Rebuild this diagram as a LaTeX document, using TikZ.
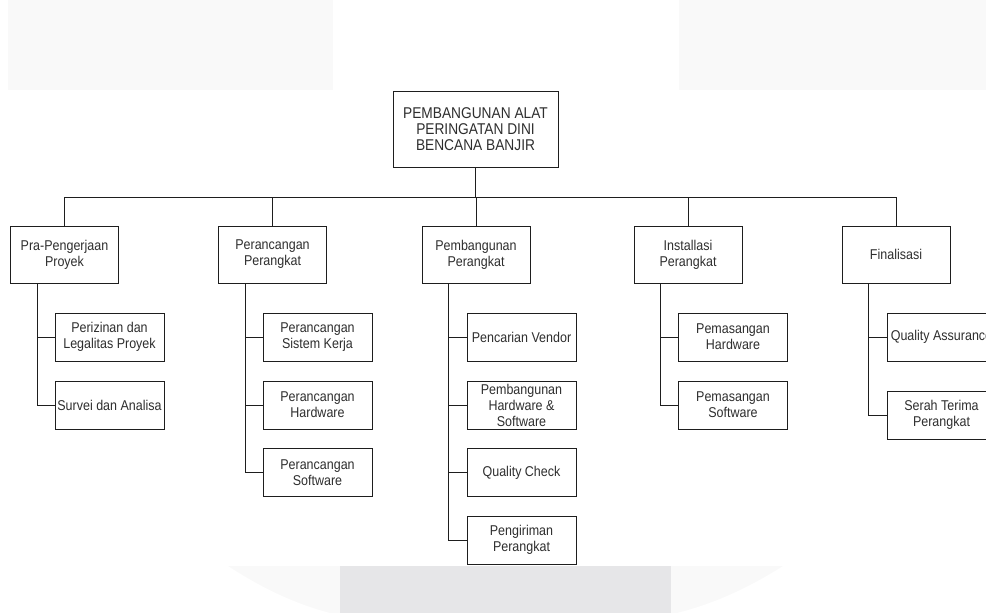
\documentclass[tikz,border=0pt]{standalone}
\usepackage{fontspec}
\setmainfont{Liberation Sans}[FakeStretch=0.88]
\definecolor{linec}{HTML}{1E1E1E}
\definecolor{txtc}{HTML}{2E2E2E}
\definecolor{paleband}{HTML}{F9F9F9}
\definecolor{greyband}{HTML}{E6E6E8}
\tikzset{
  box/.style={draw=linec, line width=1pt, fill=white, align=center, inner sep=0pt,
              text=txtc, font=\fontsize{14.2}{16}\selectfont},
  topbox/.style={box, minimum width=165pt, minimum height=76pt,
                 font=\fontsize{15.6}{16}\selectfont},
  phase/.style={box, minimum width=108pt, minimum height=57pt},
  task/.style={box, minimum width=109pt, minimum height=48pt},
  link/.style={draw=linec, line width=1pt}
}
\begin{document}
\begin{tikzpicture}[x=1pt,y=-1pt]
\useasboundingbox (0,0) rectangle (986,613);
\clip (0,0) rectangle (986,613);

% faint background bands
\fill[paleband] (8,0) rectangle (333,90);
\fill[paleband] (679,0) rectangle (986,90);
\fill[paleband] (228,566) .. controls (268,592) and (300,605) .. (330,613)
  -- (340,613) -- (340,566) -- cycle;
\fill[paleband] (783,566) .. controls (745,590) and (712,604) .. (677,613)
  -- (671,613) -- (671,566) -- cycle;
\fill[greyband] (340,566) rectangle (671,613);

% root
\node[topbox] (root) at (475.5,129) {PEMBANGUNAN ALAT\\PERINGATAN DINI\\BENCANA BANJIR};

% phases
\node[phase] (pra)  at (64.5,254.5) {Pra-Pengerjaan\\Proyek};
\node[phase] (pran) at (272.5,254.5) {Perancangan\\Perangkat};
\node[phase] (pemb) at (476,254.5) {Pembangunan\\Perangkat};
\node[phase] (inst) at (688,254.5) {Installasi\\Perangkat};
\node[phase] (fin)  at (896,254.5) {Finalisasi};

% tasks
\node[task] (pra1) at (109.5,337) {Perizinan dan\\Legalitas Proyek};
\node[task] (pra2) at (109.5,405) {Survei dan Analisa};

\node[task] (pran1) at (317.5,337) {Perancangan\\Sistem Kerja};
\node[task] (pran2) at (317.5,405) {Perancangan\\Hardware};
\node[task] (pran3) at (317.5,472.5) {Perancangan\\Software};

\node[task] (pemb1) at (521.5,337) {Pencarian Vendor};
\node[task] (pemb2) at (521.5,405) {Pembangunan\\Hardware \&\\Software};
\node[task] (pemb3) at (521.5,472.5) {Quality Check};
\node[task] (pemb4) at (521.5,540) {Pengiriman\\Perangkat};

\node[task] (inst1) at (733,337) {Pemasangan\\Hardware};
\node[task] (inst2) at (733,405) {Pemasangan\\Software};

\node[task] (fin1) at (941.5,337) {Quality Assurance};
\node[task] (fin2) at (941.5,415) {Serah Terima\\Perangkat};

% root to phases
\foreach \p in {pra,pran,pemb,inst,fin}
  \draw[link] (root.south) -- ++(0,30) -| (\p.north);

% phases to tasks
\foreach \p/\t in {pra/pra1,pra/pra2,
                   pran/pran1,pran/pran2,pran/pran3,
                   pemb/pemb1,pemb/pemb2,pemb/pemb3,pemb/pemb4,
                   inst/inst1,inst/inst2,
                   fin/fin1,fin/fin2}
  \draw[link] ([xshift=27pt]\p.south west) |- (\t.west);
\end{tikzpicture}
\end{document}
